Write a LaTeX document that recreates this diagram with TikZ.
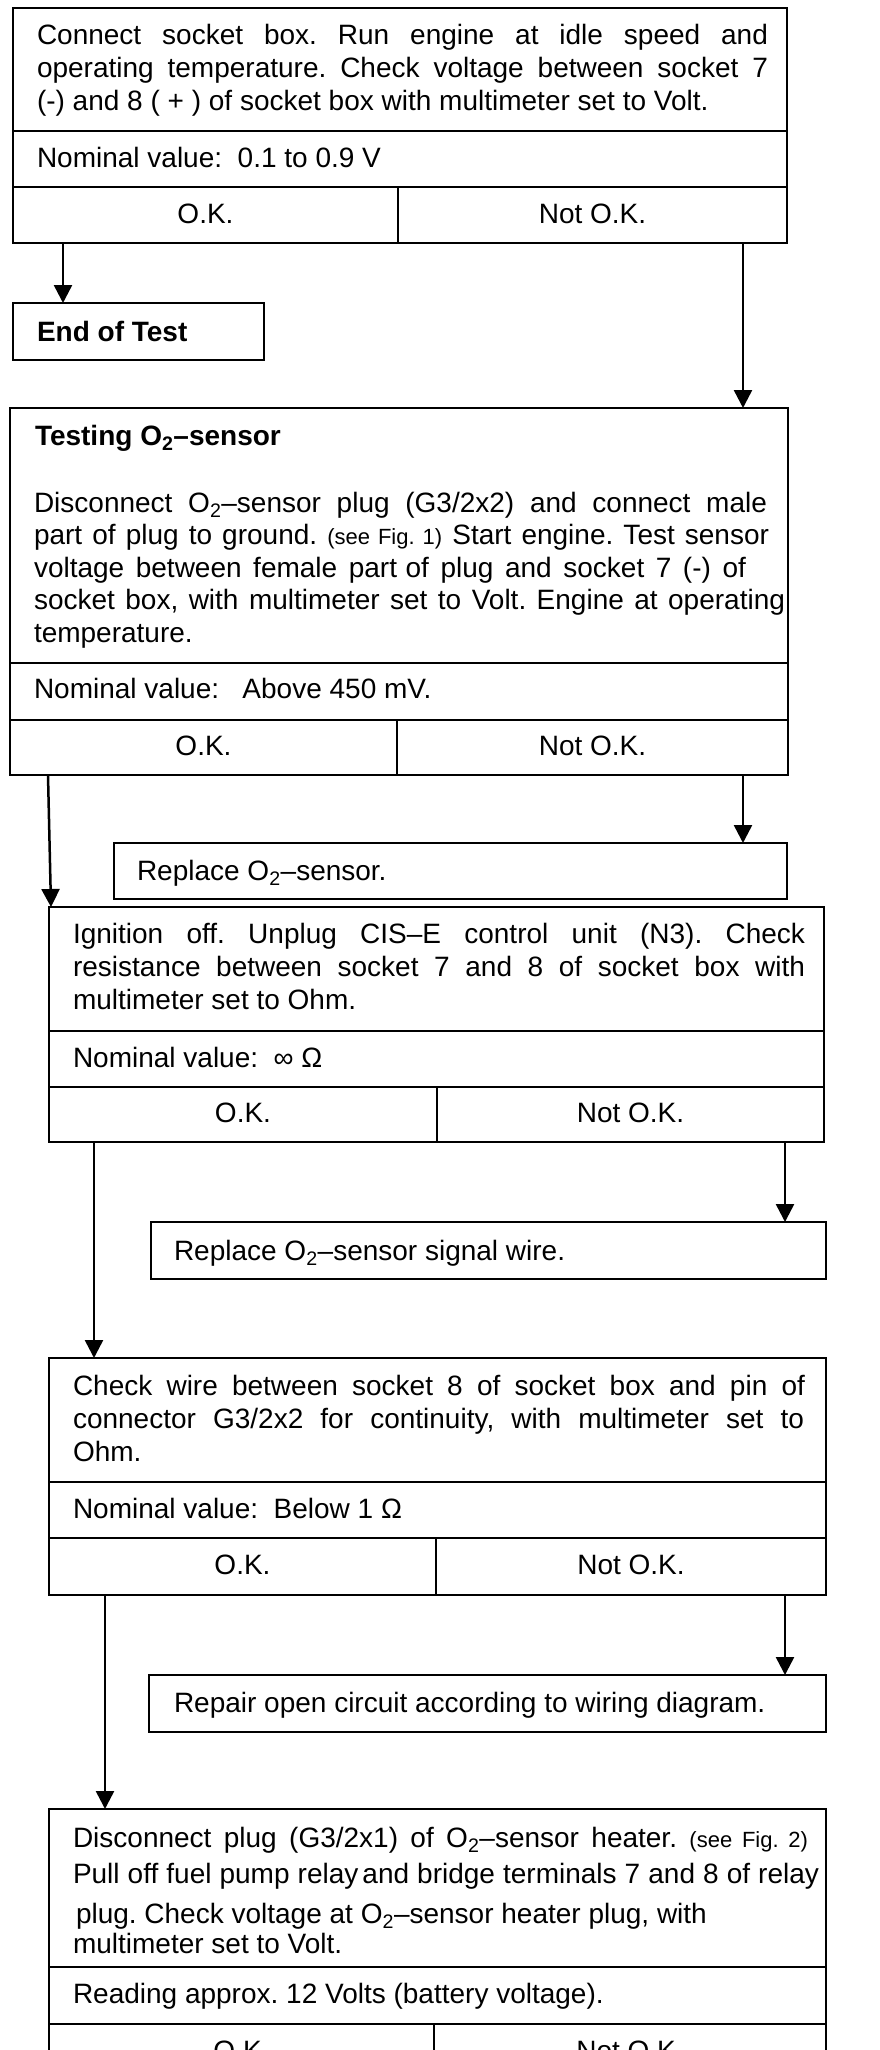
\documentclass[tikz,border=0pt]{standalone}
\usepackage{fontspec}
\setmainfont{Liberation Sans}
\usetikzlibrary{arrows.meta}
\frenchspacing
\newcommand\JL[2]{\hbox to #1pt{#2}}
\newcommand\NL[1]{\hbox{#1}}
\newcommand\Ot{O\textsubscript{2}}
\newcommand\sfig[1]{{\fontsize{22}{26}\selectfont #1}}
\newcommand\cell[5]{\node[cellst, anchor=north west, minimum width=#4pt, minimum height=#5pt] (#1) at (#2,#3) {};}
\begin{document}
\begin{tikzpicture}[x=1pt,y=-1pt,
  cellst/.style={draw, line width=2.8pt, inner sep=0pt, outer sep=0pt, rectangle},
  txt/.style={inner sep=0pt, outer sep=0pt, anchor=base west, font=\fontsize{28}{33}\selectfont\frenchspacing},
  oktxt/.style={inner sep=0pt, outer sep=0pt, anchor=base, font=\fontsize{28}{33}\selectfont},
  arr/.style={line width=2.5pt, -{Triangle[width=18pt,length=18pt]}}]
\useasboundingbox (0,0) rectangle (880,2050);
\fill[white] (0,0) rectangle (880,2050);
\clip (0,0) rectangle (880,2050);

% Box 1
\cell{b1t}{13}{8}{774}{123}
\cell{b1n}{13}{131}{774}{56}
\cell{b1ok}{13}{187}{385}{56}
\cell{b1nok}{398}{187}{389}{56}
\cell{e1}{13}{303}{251}{57}
% Box 2
\cell{b2t}{10}{408}{778}{255}
\cell{b2n}{10}{663}{778}{57}
\cell{b2ok}{10}{720}{387}{55}
\cell{b2nok}{397}{720}{391}{55}
\cell{r1}{114}{843}{673}{56}
% Box 3
\cell{b3t}{49}{907}{775}{124}
\cell{b3n}{49}{1031}{775}{56}
\cell{b3ok}{49}{1087}{388}{55}
\cell{b3nok}{437}{1087}{387}{55}
\cell{r2}{151}{1222}{675}{57}
% Box 4
\cell{b4t}{49}{1358}{777}{124}
\cell{b4n}{49}{1482}{777}{56}
\cell{b4ok}{49}{1538}{387}{57}
\cell{b4nok}{436}{1538}{390}{57}
\cell{r3}{149}{1675}{677}{57}
% Box 5
\cell{b5t}{49}{1809}{777}{158}
\cell{b5n}{49}{1967}{777}{57}
\cell{b5ok}{49}{2024}{385}{56}
\cell{b5nok}{434}{2024}{392}{56}

% Texts box 1
\node[txt] (b1p) at ([xshift=24pt,yshift=-37pt]b1t.north west) {\vtop{%
\JL{731}{Connect socket box. Run engine at idle speed and}
\JL{731}{operating temperature. Check voltage between socket 7}
\NL{(-) and 8 ( + ) of socket box with multimeter set to Volt.}}};
\node[txt] (b1nx) at ([xshift=24pt,yshift=-36pt]b1n.north west) {Nominal value:\ \ 0.1 to 0.9 V};
\node[oktxt] (b1okx) at ([yshift=20pt]b1ok.south) {O.K.};
\node[oktxt] (b1nokx) at ([yshift=20pt]b1nok.south) {Not O.K.};
\node[txt, font=\fontsize{28}{33}\selectfont\bfseries] (e1x) at ([xshift=24pt,yshift=-38pt]e1.north west) {End of Test};

% Texts box 2
\node[txt, font=\fontsize{28}{33}\selectfont\bfseries] (b2h) at ([xshift=25pt,yshift=-37pt]b2t.north west) {Testing \Ot–sensor};
\node[txt, font=\fontsize{28}{32.5}\selectfont\frenchspacing] (b2p) at ([xshift=24pt,yshift=-104pt]b2t.north west) {\vtop{%
\JL{733}{Disconnect \Ot–sensor plug (G3/2x2) and connect male}
\JL{735}{part of plug to ground. \sfig{(see Fig. 1)} Start engine. Test sensor}
\JL{712}{voltage between female part\kern-3pt\ of plug and socket 7 (-) of}
\JL{751}{socket box, with multimeter set to Volt. Engine at operating}
\NL{temperature.}}};
\node[txt] (b2nx) at ([xshift=24pt,yshift=-35pt]b2n.north west) {Nominal value:\ \ \ Above 450 mV.};
\node[oktxt] (b2okx) at ([yshift=20pt]b2ok.south) {O.K.};
\node[oktxt] (b2nokx) at ([yshift=20pt]b2nok.south) {Not O.K.};
\node[txt] (r1x) at ([xshift=23pt,yshift=-37pt]r1.north west) {Replace \Ot–sensor.};

% Texts box 3
\node[txt] (b3p) at ([xshift=24pt,yshift=-36pt]b3t.north west) {\vtop{%
\JL{732}{Ignition off. Unplug CIS–E control unit (N3). Check}
\JL{732}{resistance between socket 7 and 8 of socket box with}
\NL{multimeter set to Ohm.}}};
\node[txt] (b3nx) at ([xshift=24pt,yshift=-36pt]b3n.north west) {Nominal value:\ \ ∞ Ω};
\node[oktxt] (b3okx) at ([yshift=20pt]b3ok.south) {O.K.};
\node[oktxt] (b3nokx) at ([yshift=20pt]b3nok.south) {Not O.K.};
\node[txt] (r2x) at ([xshift=23pt,yshift=-38pt]r2.north west) {Replace \Ot–sensor signal wire.};

% Texts box 4
\node[txt] (b4p) at ([xshift=24pt,yshift=-37pt]b4t.north west) {\vtop{%
\JL{732}{Check wire between socket 8 of socket box and pin of}
\JL{731}{connector G3/2x2 for continuity, with multimeter set to}
\NL{Ohm.}}};
\node[txt] (b4nx) at ([xshift=24pt,yshift=-36pt]b4n.north west) {Nominal value:\ \ Below 1 Ω};
\node[oktxt] (b4okx) at ([yshift=21pt]b4ok.south) {O.K.};
\node[oktxt] (b4nokx) at ([yshift=21pt]b4nok.south) {Not O.K.};
\node[txt] (r3x) at ([xshift=25pt,yshift=-37pt]r3.north west) {Repair open circuit according to wiring diagram.};

% Texts box 5
\node[txt] (b5p) at ([xshift=24pt,yshift=-38pt]b5t.north west) {\vtop{%
\JL{735}{Disconnect plug (G3/2x1) of \Ot–sensor heater. \sfig{(see Fig. 2)}}
\kern3pt
\JL{746}{Pull off fuel pump relay\kern-4pt\ and bridge terminals 7 and 8 of relay}
\kern7pt
\NL{\kern3pt plug. Check voltage at \Ot–sensor heater plug, with}
\kern-3pt
\NL{multimeter set to Volt.}}};
\node[txt] (b5nx) at ([xshift=24pt,yshift=-36pt]b5n.north west) {Reading approx. 12 Volts (battery voltage).};
\node[oktxt] (b5okx) at ([yshift=20pt]b5ok.south) {O.K.};
\node[oktxt] (b5nokx) at ([yshift=20pt]b5nok.south) {Not O.K.};

% Connectors
\draw[arr] ([xshift=50pt]b1ok.south west) -- ([xshift=50pt]b1ok.south west |- e1.north);
\draw[arr] ([xshift=-44pt]b1nok.south east) -- ([xshift=-44pt]b1nok.south east |- b2t.north);
\draw[arr] ([xshift=38pt]b2ok.south west) -- ([xshift=2pt]b3t.north west);
\draw[arr] ([xshift=-45pt]b2nok.south east) -- ([xshift=-45pt]b2nok.south east |- r1.north);
\draw[arr] ([xshift=45pt]b3ok.south west) -- ([xshift=45pt]b3ok.south west |- b4t.north);
\draw[arr] ([xshift=-39pt]b3nok.south east) -- ([xshift=-39pt]b3nok.south east |- r2.north);
\draw[arr] ([xshift=56pt]b4ok.south west) -- ([xshift=56pt]b4ok.south west |- b5t.north);
\draw[arr] ([xshift=-41pt]b4nok.south east) -- ([xshift=-41pt]b4nok.south east |- r3.north);
\end{tikzpicture}
\end{document}
